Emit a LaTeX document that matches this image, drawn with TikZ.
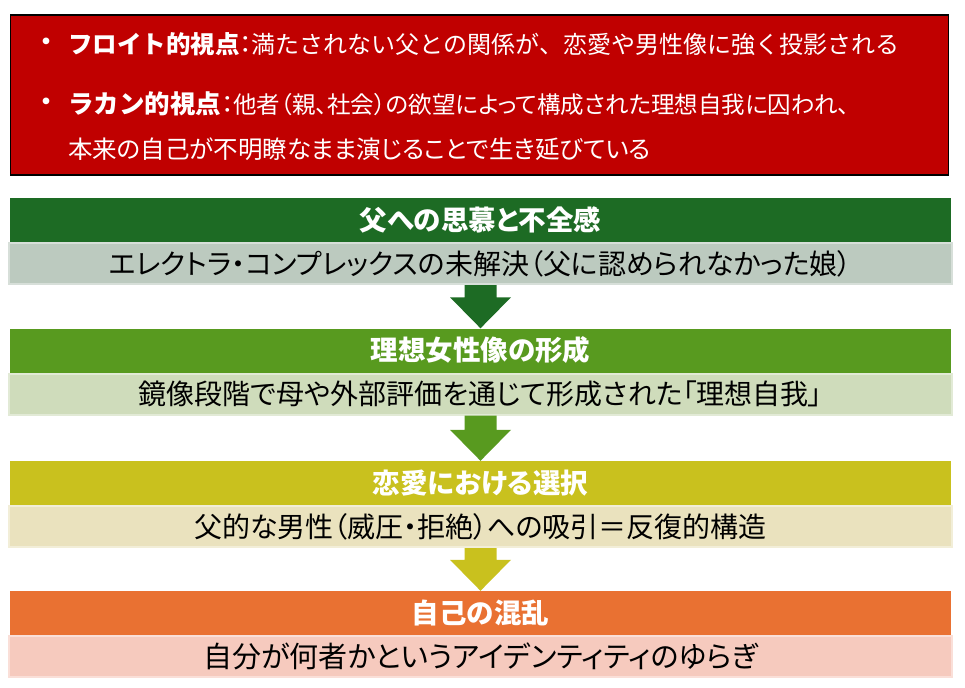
\documentclass[tikz,border=0pt]{standalone}
\usepackage{fontspec}
\setmainfont{Noto Sans CJK JP}[RawFeature={+palt}]
\newfontfamily\jpwide{Noto Sans CJK JP}
\usetikzlibrary{positioning,calc}

\definecolor{redbg}{HTML}{C00000}
\definecolor{hdone}{HTML}{1D6B24}
\definecolor{hdtwo}{HTML}{589A1F}
\definecolor{hdthree}{HTML}{C9C11E}
\definecolor{hdfour}{HTML}{E97132}
\definecolor{ltone}{HTML}{BCCABF}
\definecolor{lttwo}{HTML}{CFDCBB}
\definecolor{ltthree}{HTML}{EAE2BE}
\definecolor{ltfour}{HTML}{F6CABE}

\tikzset{
  head/.style={fill=#1,minimum width=941pt,minimum height=44pt,inner sep=0pt,
    text=white,font=\fontsize{27.5pt}{30pt}\selectfont\bfseries},
  light/.style={fill=#1,draw=#1!60!white,line width=2pt,minimum width=943pt,
    minimum height=41pt,inner sep=0pt,font=\fontsize{28pt}{30pt}\selectfont},
  introtxt/.style={anchor=west,inner sep=0pt,text=white,font=\fontsize{24.5pt}{28pt}\selectfont},
}

\begin{document}
\begin{tikzpicture}[x=1pt,y=-1pt]
\useasboundingbox (0,0) rectangle (965,687);

\node[draw=black,line width=1.3pt,fill=redbg,minimum width=938pt,minimum height=160pt,inner sep=0pt] (intro) at (479.5,95) {};
\node[text=white,inner sep=0pt,font=\fontsize{24pt}{28pt}\selectfont\bfseries] (d1) at (47,44) {・};
\node[text=white,inner sep=0pt,font=\fontsize{24pt}{28pt}\selectfont\bfseries] (d2) at (47,104) {・};
\node[introtxt] (f1) at (68,44) {{\jpwide\fontsize{24.5pt}{28pt}\selectfont\bfseries フロイト的視点}：{\jpwide\fontsize{24pt}{28pt}\selectfont 満たされない父との関係が、恋愛や男性像に強く投影される}};
\node[introtxt] (f2) at (68,104) {{\jpwide\fontsize{25.5pt}{28pt}\selectfont\bfseries ラカン的視点}：{\fontsize{23.5pt}{28pt}\selectfont 他者（親、社会）の欲望によって構成された理想自我に囚われ、}};
\node[introtxt] (f3) at (68,149) {本来の自己が不明瞭なまま演じることで生き延びている};

\node[head=hdone] (h1) at (480.5,220) {父への思慕と不全感};
\node[light=ltone,below=0pt of h1] (l1) {エレクトラ・コンプレックスの未解決（父に認められなかった娘）};

\node[head=hdtwo] (h2) at (480.5,350.5) {理想女性像の形成};
\node[light=lttwo,below=0pt of h2] (l2) {鏡像段階で母や外部評価を通じて形成された「理想自我」};

\node[head=hdthree] (h3) at (480.5,483) {恋愛における選択};
\node[light=ltthree,below=0pt of h3] (l3) {父的な男性（威圧・拒絶）への吸引＝反復的構造};

\node[head=hdfour] (h4) at (480.5,613) {自己の混乱};
\node[light=ltfour,below=0pt of h4,font=\fontsize{29pt}{30pt}\selectfont] (l4) {自分が何者かというアイデンティティのゆらぎ};

\fill[hdone] ($(l1.south)+(-16,0)$) -- ($(l1.south)+(16,0)$) -- ($(h2.north)+(16,-31)$) -- ($(h2.north)+(30.5,-31)$) -- (h2.north) -- ($(h2.north)+(-30.5,-31)$) -- ($(h2.north)+(-16,-31)$) -- cycle;
\fill[hdtwo] ($(l2.south)+(-16,0)$) -- ($(l2.south)+(16,0)$) -- ($(h3.north)+(16,-31)$) -- ($(h3.north)+(30.5,-31)$) -- (h3.north) -- ($(h3.north)+(-30.5,-31)$) -- ($(h3.north)+(-16,-31)$) -- cycle;
\fill[hdthree] ($(l3.south)+(-16,0)$) -- ($(l3.south)+(16,0)$) -- ($(h4.north)+(16,-31)$) -- ($(h4.north)+(30.5,-31)$) -- (h4.north) -- ($(h4.north)+(-30.5,-31)$) -- ($(h4.north)+(-16,-31)$) -- cycle;
\end{tikzpicture}
\end{document}
